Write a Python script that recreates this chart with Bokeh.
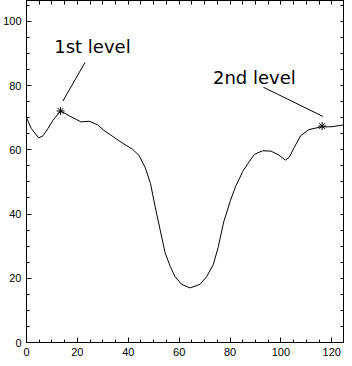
from bokeh.plotting import figure
from bokeh.models import Range1d, LinearAxis, SingleIntervalTicker, FixedTicker
from bokeh.core.properties import value
from bokeh.embed import file_html
from bokeh.resources import INLINE

# curve
curve_x = [0, 1.9, 4.8, 6.5, 8.4, 10.4, 13.4, 17.5, 21.4, 24.7, 27.9, 30.5, 34.4, 38.3,
           41.6, 44.2, 46.7, 48.7, 50.6, 52.6, 54.5, 56.5, 58.4, 61.0, 64.3, 68.2, 70.8,
           73.4, 75.3, 77.5, 80.2, 82.3, 83.8, 85.0, 87.7, 89.6, 92.8, 96.1, 99.3, 101.7,
           103.2, 105.2, 107.8, 111.0, 115.6, 120.1, 125]
curve_y = [70.0, 66.6, 63.7, 64.4, 66.6, 69.2, 72.1, 70.3, 68.7, 68.9, 67.8, 66.0, 63.9, 61.8,
           60.2, 58.3, 54.4, 49.6, 42.2, 34.8, 27.9, 23.7, 20.5, 18.1, 17.0, 18.1, 20.5,
           24.2, 29.5, 37.5, 44.3, 48.8, 51.2, 53.3, 56.5, 58.6, 59.7, 59.6, 58.3, 56.8,
           57.6, 60.7, 64.4, 66.3, 67.1, 67.2, 67.8]

# marked levels
star_x = [13.4, 116.2]
star_y = [72.1, 67.4]

# annotation labels and pointer lines
label_text = ["1st level", "2nd level"]
label_x = [10.9, 73.3]
label_y = [92.1, 82.4]
pointer_x0 = [14.3, 116.5]
pointer_y0 = [75.2, 70.4]
pointer_x1 = [23.0, 93.1]
pointer_y1 = [87.2, 79.5]

x_ticks_interval = 20
y_ticks_interval = 20
mirror_tick_step = 5

p = figure(width=344, height=358, output_backend="svg", toolbar_location=None,
           x_range=Range1d(0, 125), y_range=Range1d(0, 106.5),
           x_axis_type=None, y_axis_type=None,
           min_border_left=0, min_border_right=0, min_border_top=0, min_border_bottom=0)
p.background_fill_color = "white"
p.border_fill_color = "white"
p.outline_line_color = "black"
p.outline_line_width = 1
p.grid.visible = False


def make_axis(interval):
    ax = LinearAxis(ticker=SingleIntervalTicker(interval=interval, num_minor_ticks=4))
    ax.axis_line_color = "black"
    ax.major_tick_in = 5
    ax.major_tick_out = 0
    ax.minor_tick_in = 3
    ax.minor_tick_out = 0
    ax.major_tick_line_color = "black"
    ax.minor_tick_line_color = "black"
    ax.major_label_text_font = "Liberation Sans"
    ax.major_label_text_font_size = "11px"
    ax.major_label_text_color = "black"
    return ax


def make_mirror_axis(end):
    ticks = list(range(0, int(end) + 1, mirror_tick_step))
    ax = LinearAxis(ticker=FixedTicker(ticks=[], minor_ticks=ticks))
    ax.axis_line_color = "black"
    ax.major_tick_in = 0
    ax.major_tick_out = 0
    ax.minor_tick_in = 4
    ax.minor_tick_out = 0
    ax.minor_tick_line_color = "black"
    ax.major_label_standoff = 0
    return ax


bottom = make_axis(x_ticks_interval)
bottom.major_label_standoff = 5
p.add_layout(bottom, "below")
left = make_axis(y_ticks_interval)
left.major_label_standoff = 5
p.add_layout(left, "left")
p.add_layout(make_mirror_axis(125), "above")
p.add_layout(make_mirror_axis(106), "right")

p.line(curve_x, curve_y, line_color="black", line_width=1)
p.scatter(star_x, star_y, marker="asterisk", size=8, line_color="black", line_width=1)
p.segment(pointer_x0, pointer_y0, pointer_x1, pointer_y1, line_color="black", line_width=1)
p.text(label_x, label_y, text=label_text, text_font=value("DejaVu Sans"),
       text_font_size="18px", text_baseline="alphabetic", text_align="left",
       text_color="black")

open("out.html", "w").write(file_html(p, INLINE))
